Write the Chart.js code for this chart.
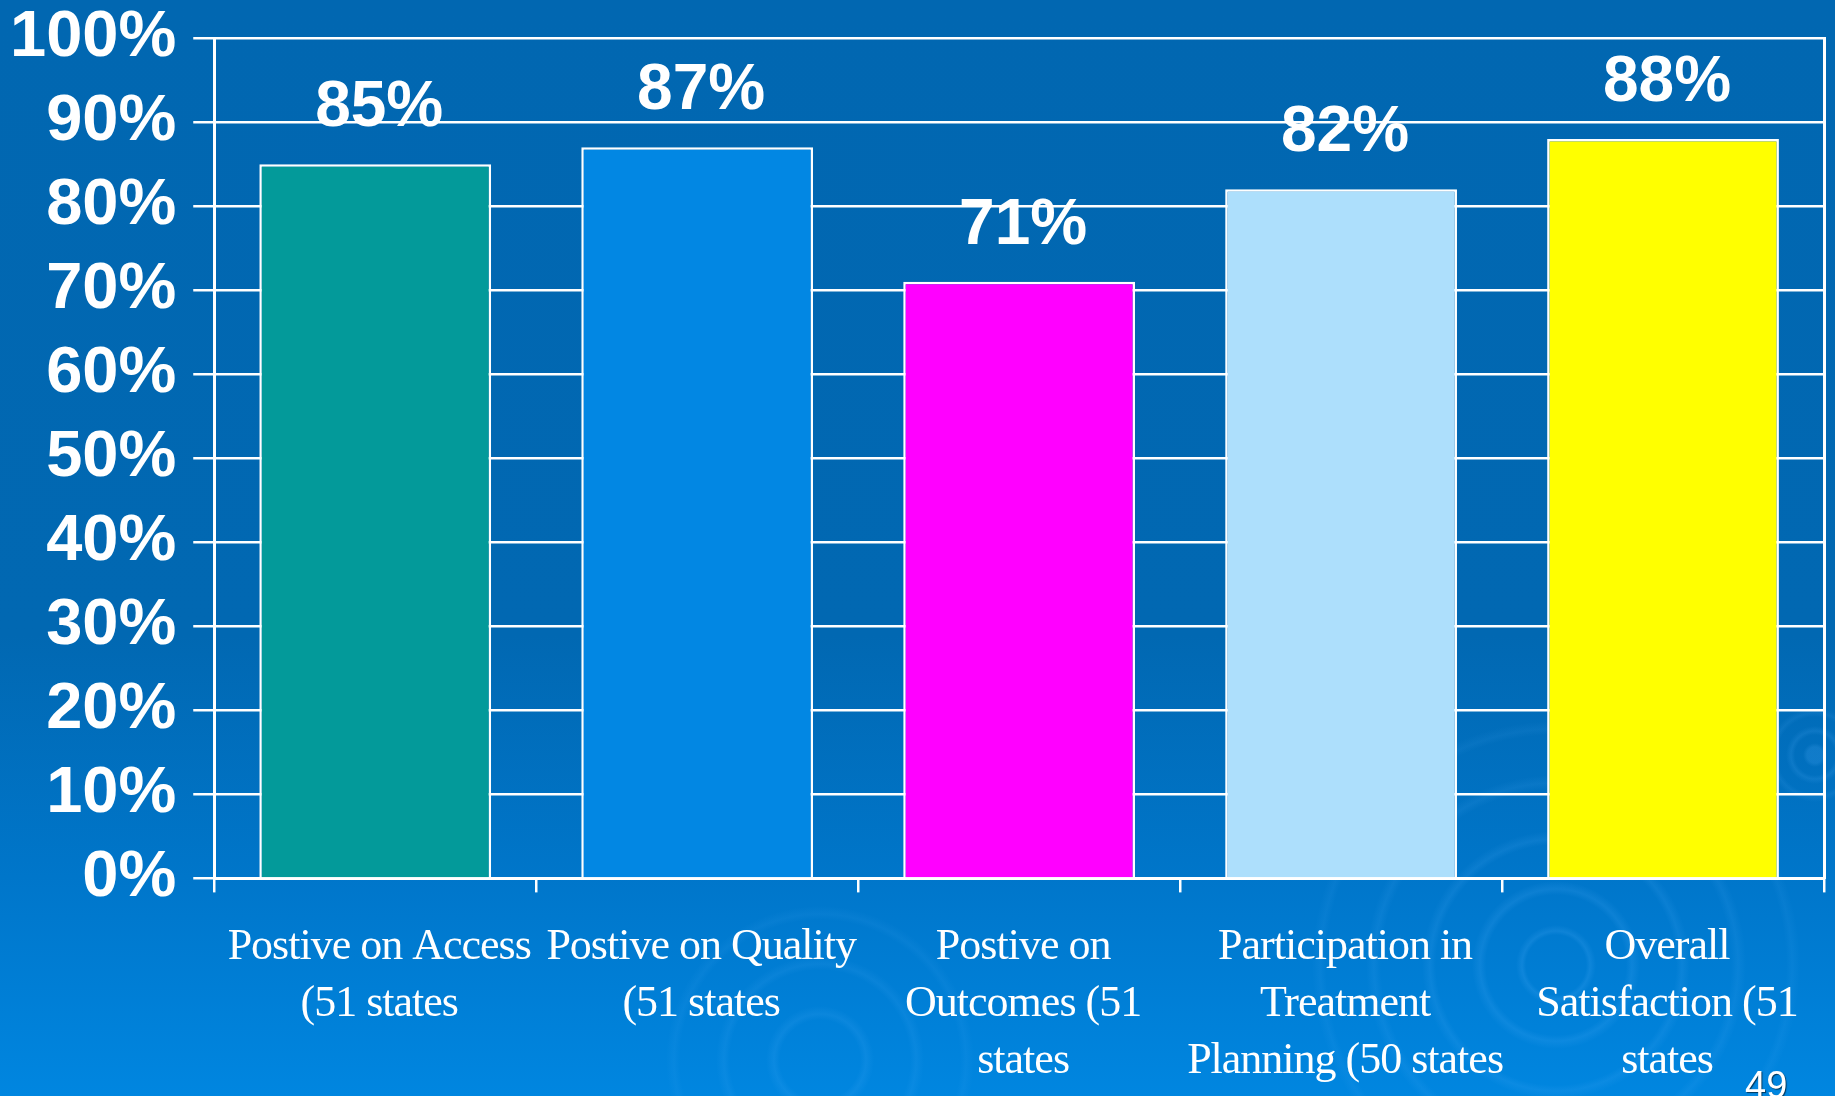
<!DOCTYPE html>
<html>
<head>
<meta charset="utf-8">
<script src="https://cdn.jsdelivr.net/npm/chart.js@4.4.1/dist/chart.umd.min.js"></script>
<style>
  html, body { margin: 0; padding: 0; width: 1835px; height: 1096px; overflow: hidden; }
  body {
    position: relative;
    background:
      radial-gradient(circle at 1556px 965px, rgba(0,0,0,0) 30px, rgba(90,180,255,0.16) 34px, rgba(0,0,0,0) 40px, rgba(0,0,0,0) 70px, rgba(90,180,255,0.14) 76px, rgba(0,0,0,0) 84px, rgba(0,0,0,0) 120px, rgba(90,180,255,0.12) 126px, rgba(0,0,0,0) 134px, rgba(0,0,0,0) 175px, rgba(90,180,255,0.10) 182px, rgba(0,0,0,0) 190px, rgba(0,0,0,0) 230px, rgba(90,180,255,0.08) 236px, rgba(0,0,0,0) 244px),
      radial-gradient(circle at 820px 1060px, rgba(0,0,0,0) 40px, rgba(90,180,255,0.12) 46px, rgba(0,0,0,0) 54px, rgba(0,0,0,0) 90px, rgba(90,180,255,0.10) 96px, rgba(0,0,0,0) 104px, rgba(0,0,0,0) 140px, rgba(90,180,255,0.08) 146px, rgba(0,0,0,0) 154px),
      radial-gradient(circle at 1815px 755px, rgba(90,180,255,0.18) 8px, rgba(0,0,0,0) 12px, rgba(0,0,0,0) 20px, rgba(90,180,255,0.14) 24px, rgba(0,0,0,0) 29px, rgba(0,0,0,0) 38px, rgba(90,180,255,0.10) 42px, rgba(0,0,0,0) 47px),
      linear-gradient(to bottom, #0167b1 0%, #0168b2 58%, #0076ca 80%, #0086e0 100%);
  }
  #wrap { position: absolute; left: 0; top: 0; width: 1835px; height: 1096px; }
  #pg { position: absolute; left: 1745px; top: 1066px; font: 38px "Liberation Sans", Arial, sans-serif; line-height: 1; color: #fff; text-shadow: 1px 1px 1px rgba(0,0,0,0.6); }
</style>
</head>
<body>
<div id="wrap"><canvas id="c" width="1835" height="1096"></canvas></div>
<div id="pg">49</div>
<script>
const categories = [
  ["Postive on Access", "(51 states"],
  ["Postive on Quality", "(51 states"],
  ["Postive on", "Outcomes (51", "states"],
  ["Participation in", "Treatment", "Planning (50 states"],
  ["Overall", "Satisfaction (51", "states"]
];
const values = [85, 87, 71, 82, 88];
const barColors = ["#039a9a", "#0287e3", "#ff00ff", "#addffc", "#ffff00"];
const yMin = 0, yMax = 100, yStep = 10;

const letterSpacingPlugin = {
  id: 'ls',
  beforeDraw(chart) { chart.ctx.letterSpacing = '-1px'; },
  beforeDatasetsDraw(chart) { chart.ctx.letterSpacing = '0px'; }
};

const valueLabels = {
  id: 'valueLabels',
  afterDatasetsDraw(chart) {
    const ctx = chart.ctx;
    const meta = chart.getDatasetMeta(0);
    ctx.save();
    ctx.letterSpacing = '0px';
    ctx.font = 'bold 64px "Liberation Sans", Arial, sans-serif';
    ctx.fillStyle = '#ffffff';
    ctx.textAlign = 'center';
    ctx.textBaseline = 'alphabetic';
    meta.data.forEach((bar, i) => {
      ctx.fillText(values[i] + '%', bar.x + 4, bar.y - 38);
    });
    ctx.restore();
  }
};

new Chart(document.getElementById('c'), {
  type: 'bar',
  data: {
    labels: categories,
    datasets: [{
      data: values,
      backgroundColor: barColors,
      borderColor: '#ffffff',
      borderWidth: 2.5,
      categoryPercentage: 1,
      barPercentage: 0.72
    }]
  },
  options: {
    responsive: false,
    animation: false,
    layout: { padding: { left: -7, right: 11, top: 0, bottom: -20 } },
    plugins: { legend: { display: false }, tooltip: { enabled: false } },
    scales: {
      x: {
        grid: { offset: true, drawOnChartArea: false, drawTicks: true, tickLength: 14, color: '#ffffff', lineWidth: 2.5 },
        border: { color: '#ffffff', width: 3 },
        ticks: {
          color: '#ffffff',
          font: { family: '"Liberation Serif", "Times New Roman", serif', size: 44, lineHeight: 1.3 },
          padding: 26,
          labelOffset: 4,
          maxRotation: 0,
          autoSkip: false
        }
      },
      y: {
        min: yMin, max: yMax,
        grid: { color: '#ffffff', lineWidth: 2.5, tickLength: 21, drawTicks: true },
        border: { color: '#ffffff', width: 3 },
        ticks: {
          z: 1,
          stepSize: yStep,
          color: '#ffffff',
          padding: 17,
          font: { family: '"Liberation Sans", Arial, sans-serif', size: 65, weight: 'bold', lineHeight: 0.65 },
          callback: v => v + '%'
        }
      },
      y2: {
        position: 'right',
        min: yMin, max: yMax,
        grid: { drawOnChartArea: false, drawTicks: false },
        border: { color: '#ffffff', width: 3 },
        ticks: { display: false }
      }
    }
  },
  plugins: [letterSpacingPlugin, valueLabels]
});
</script>
</body>
</html>
